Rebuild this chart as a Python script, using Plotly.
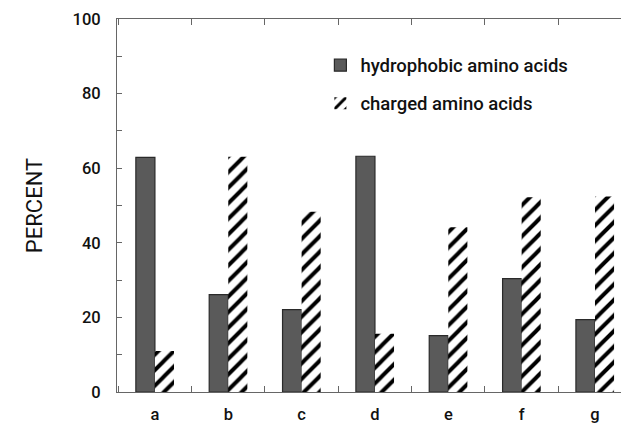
import plotly.graph_objects as go

categories = ["a", "b", "c", "d", "e", "f", "g"]
hydrophobic = [62.9, 26.1, 22.1, 63.2, 15.1, 30.4, 19.4]
charged = [11.0, 63.1, 48.3, 15.6, 44.2, 52.2, 52.4]
y_ticks = [0, 20, 40, 60, 80, 100]

FONT = "Roboto, Liberation Sans, Arial, sans-serif"
INK = "#111111"
W = 500

fig = go.Figure()
fig.add_trace(go.Bar(
    x=categories, y=hydrophobic, name="hydrophobic amino acids",
    marker=dict(color="#5a5a5a", line=dict(color="#2a2a2a", width=1.2)),
    legend="legend", showlegend=True,
))
fig.add_trace(go.Bar(
    x=categories, y=charged, name="charged amino acids",
    marker=dict(color="white", line=dict(color="white", width=0),
                pattern=dict(shape="/", fgcolor="#000000", bgcolor="white",
                             fgopacity=1, size=11, solidity=0.36)),
    legend="legend2", showlegend=True,
))

axis_line = "#666666"
fig.update_layout(
    width=621, height=416,
    margin=dict(l=109, r=0, t=11, b=30),
    paper_bgcolor="white", plot_bgcolor="white",
    showlegend=True,
    barmode="group", bargap=0.48, bargroupgap=0,
    font=dict(family=FONT, size=16, color=INK, weight=W),
    legend=dict(x=0.398, xanchor="left", y=0.926, yanchor="top",
                bgcolor="rgba(0,0,0,0)", font=dict(size=18.5, color=INK, weight=W)),
    legend2=dict(x=0.398, xanchor="left", y=0.824, yanchor="top",
                 bgcolor="rgba(0,0,0,0)", font=dict(size=18.5, color=INK, weight=W)),
    xaxis=dict(
        type="category", range=[-0.517, 6.45],
        showline=True, linecolor=axis_line, linewidth=1, mirror="ticks",
        ticks="inside", ticklen=6, tickcolor=axis_line, tickson="boundaries",
        showgrid=False, zeroline=False,
        tickfont=dict(size=16.5, color=INK, weight=W), ticklabelstandoff=7,
    ),
    yaxis=dict(
        range=[0, 100], tickvals=y_ticks,
        showline=True, linecolor=axis_line, linewidth=1, mirror="ticks",
        ticks="inside", ticklen=5, tickcolor=axis_line,
        minor=dict(dtick=10, ticks="inside", ticklen=5, tickcolor=axis_line, showgrid=False),
        showgrid=False, zeroline=False,
        tickfont=dict(size=16.5, color=INK, weight=W), ticklabelstandoff=12,
        title=dict(text="PERCENT", font=dict(size=22, color=INK, weight=400), standoff=23),
    ),
)

fig.write_html("out.html")
